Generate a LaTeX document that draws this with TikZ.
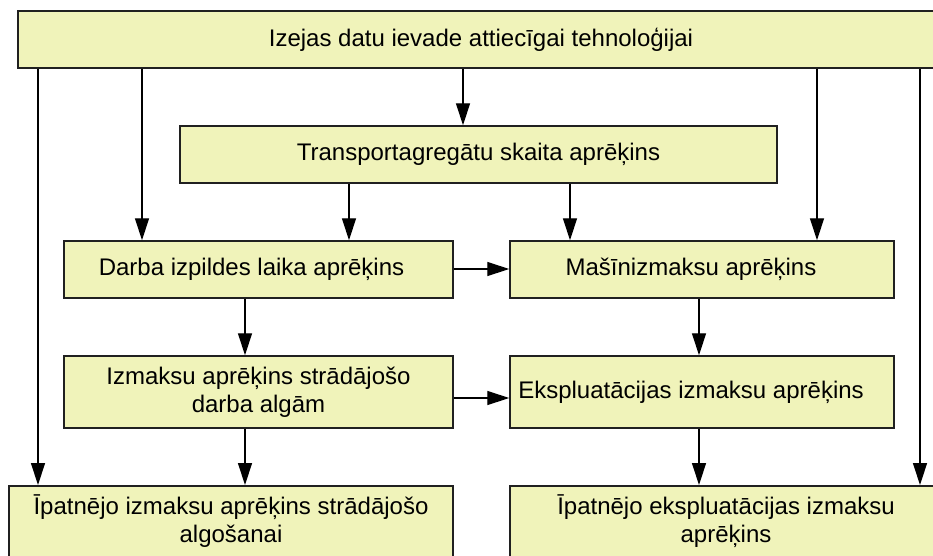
\documentclass[tikz,border=0pt]{standalone}
\usepackage{fontspec}
\setmainfont{Liberation Sans}
\usetikzlibrary{arrows.meta}
\definecolor{boxfill}{RGB}{240,243,186}
\definecolor{boxline}{RGB}{32,32,32}
\begin{document}
\begin{tikzpicture}[x=1pt,y=-1pt,
  stepbox/.style={draw=boxline,fill=boxfill,line width=1.5pt,inner sep=0pt,
    font=\fontsize{24}{28}\selectfont,align=center},
  conn/.style={line width=1.3pt,draw=black,-{Triangle[length=22pt,width=14pt]}}]
\useasboundingbox (0,0) rectangle (933,555);
\clip (0,0) rectangle (933,555);
\node[stepbox,minimum width=926pt,minimum height=57pt] (top) at (481,39.5) {Izejas datu ievade attiecīgai tehnoloģijai};
\node[stepbox,minimum width=597pt,minimum height=57pt] (tr) at (478.5,154.5) {Transportagregātu skaita aprēķins};
\node[stepbox,minimum width=389pt,minimum height=57pt] (da) at (258.5,269.5) {Darba izpildes laika aprēķins\hspace{14pt}};
\node[stepbox,minimum width=384pt,minimum height=57pt] (ma) at (702,269.5) {Mašīnizmaksu aprēķins\hspace{22pt}};
\node[stepbox,minimum width=389pt,minimum height=72pt] (iz) at (258.5,392) {Izmaksu aprēķins strādājošo\\darba algām};
\node[stepbox,minimum width=384pt,minimum height=72pt] (ek) at (702,392) {Eksplua\-tācijas izmaksu aprēķins\hspace{22pt}};
\node[stepbox,minimum width=444pt,minimum height=90pt,anchor=north] (ip1) at (231,485) {};
\node[font=\fontsize{24}{28}\selectfont,align=center,anchor=north,inner sep=0pt] (t1) at (231,494) {Īpatnējo izmaksu aprēķins strādājošo\\algošanai};
\node[stepbox,minimum width=432pt,minimum height=90pt,anchor=north] (ip2) at (726,485) {};
\node[font=\fontsize{24}{28}\selectfont,align=center,anchor=north,inner sep=0pt] (t2) at (726,494) {Īpatnējo ekspluatācijas izmaksu\\aprēķins};
% connectors from top
\draw[conn] (top.south -| 38,0) -- (ip1.north -| 38,0);
\draw[conn] (top.south -| 142,0) -- (da.north -| 142,0);
\draw[conn] (top.south -| 463,0) -- (tr.north -| 463,0);
\draw[conn] (top.south -| 817,0) -- (ma.north -| 817,0);
\draw[conn] (top.south -| 920,0) -- (ip2.north -| 920,0);
% from transport
\draw[conn] (tr.south -| 349,0) -- (da.north -| 349,0);
\draw[conn] (tr.south -| 570,0) -- (ma.north -| 570,0);
% left column
\draw[conn] (da.south -| 245,0) -- (iz.north -| 245,0);
\draw[conn] (iz.south -| 245,0) -- (ip1.north -| 245,0);
% right column
\draw[conn] (ma.south -| 699,0) -- (ek.north -| 699,0);
\draw[conn] (ek.south -| 699,0) -- (ip2.north -| 699,0);
% horizontal
\draw[conn] (da.east |- 0,269) -- (ma.west |- 0,269);
\draw[conn] (iz.east |- 0,398) -- (ek.west |- 0,398);
\end{tikzpicture}
\end{document}
